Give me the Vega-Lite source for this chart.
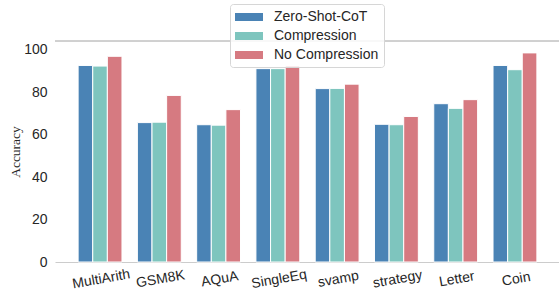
{
  "$schema": "https://vega.github.io/schema/vega-lite/v6.json",
  "autosize": "none",
  "width": 505,
  "height": 221,
  "padding": {"left": 55, "top": 41, "right": 0, "bottom": 29},
  "config": {
    "view": {"stroke": null},
    "font": "Liberation Sans",
    "axis": {"labelFont": "Liberation Sans", "labelColor": "#262626", "labelFontSize": 14, "ticks": false}
  },
  "data": {
    "values": [
      {"dataset": "MultiArith", "method": "Zero-Shot-CoT", "acc": 92.5},
      {"dataset": "MultiArith", "method": "Compression", "acc": 92.2},
      {"dataset": "MultiArith", "method": "No Compression", "acc": 96.8},
      {"dataset": "GSM8K", "method": "Zero-Shot-CoT", "acc": 65.6},
      {"dataset": "GSM8K", "method": "Compression", "acc": 65.8},
      {"dataset": "GSM8K", "method": "No Compression", "acc": 78.4},
      {"dataset": "AQuA", "method": "Zero-Shot-CoT", "acc": 64.6},
      {"dataset": "AQuA", "method": "Compression", "acc": 64.4},
      {"dataset": "AQuA", "method": "No Compression", "acc": 71.7},
      {"dataset": "SingleEq", "method": "Zero-Shot-CoT", "acc": 91.0},
      {"dataset": "SingleEq", "method": "Compression", "acc": 91.0},
      {"dataset": "SingleEq", "method": "No Compression", "acc": 92.5},
      {"dataset": "svamp", "method": "Zero-Shot-CoT", "acc": 81.6},
      {"dataset": "svamp", "method": "Compression", "acc": 81.7},
      {"dataset": "svamp", "method": "No Compression", "acc": 83.7},
      {"dataset": "strategy", "method": "Zero-Shot-CoT", "acc": 64.8},
      {"dataset": "strategy", "method": "Compression", "acc": 64.6},
      {"dataset": "strategy", "method": "No Compression", "acc": 68.5},
      {"dataset": "Letter", "method": "Zero-Shot-CoT", "acc": 74.5},
      {"dataset": "Letter", "method": "Compression", "acc": 72.3},
      {"dataset": "Letter", "method": "No Compression", "acc": 76.4},
      {"dataset": "Coin", "method": "Zero-Shot-CoT", "acc": 92.5},
      {"dataset": "Coin", "method": "Compression", "acc": 90.5},
      {"dataset": "Coin", "method": "No Compression", "acc": 98.4}
    ]
  },
  "layer": [
    {
      "mark": {"type": "rule", "color": "#d0d0d0", "strokeWidth": 1},
      "encoding": {"y": {"datum": 104}}
    },
    {
      "mark": {"type": "bar", "stroke": "white", "strokeWidth": 1},
      "encoding": {
        "x": {
          "field": "dataset", "type": "nominal", "sort": null,
          "scale": {"paddingInner": 0.26, "paddingOuter": 0.39},
          "axis": {"title": null, "labelAngle": -10, "labelAlign": "center", "labelBaseline": "top", "labelPadding": 10, "domainColor": "#cccccc", "domainWidth": 1.2}
        },
        "xOffset": {"field": "method", "type": "nominal", "sort": ["Zero-Shot-CoT", "Compression", "No Compression"]},
        "y": {
          "field": "acc", "type": "quantitative",
          "scale": {"domain": [0, 104], "nice": false},
          "axis": {"title": "Accuracy", "titleFont": "Liberation Serif", "titleFontWeight": "normal", "titleFontSize": 13.5, "titleColor": "#262626", "titlePadding": 1, "values": [0, 20, 40, 60, 80, 100], "labelPadding": 8, "domain": false, "gridColor": "#dcdcdc", "gridWidth": 1.2}
        },
        "color": {
          "field": "method", "type": "nominal",
          "sort": ["Zero-Shot-CoT", "Compression", "No Compression"],
          "scale": {"domain": ["Zero-Shot-CoT", "Compression", "No Compression"], "range": ["#4a83b5", "#7ec5be", "#d67a81"]},
          "legend": {
            "title": null, "orient": "none", "legendX": 175, "legendY": -37,
            "fillColor": "rgba(255,255,255,0.85)", "strokeColor": "#d6d6d6", "cornerRadius": 3, "padding": 5,
            "symbolType": "M-1.75,-0.5H1.75V0.5H-1.75Z", "symbolSize": 256, "symbolStrokeWidth": 0, "symbolOpacity": 1,
            "symbolOffset": 6, "labelOffset": 17, "labelFontSize": 14, "labelColor": "#262626", "rowPadding": 4
          }
        }
      }
    }
  ]
}
